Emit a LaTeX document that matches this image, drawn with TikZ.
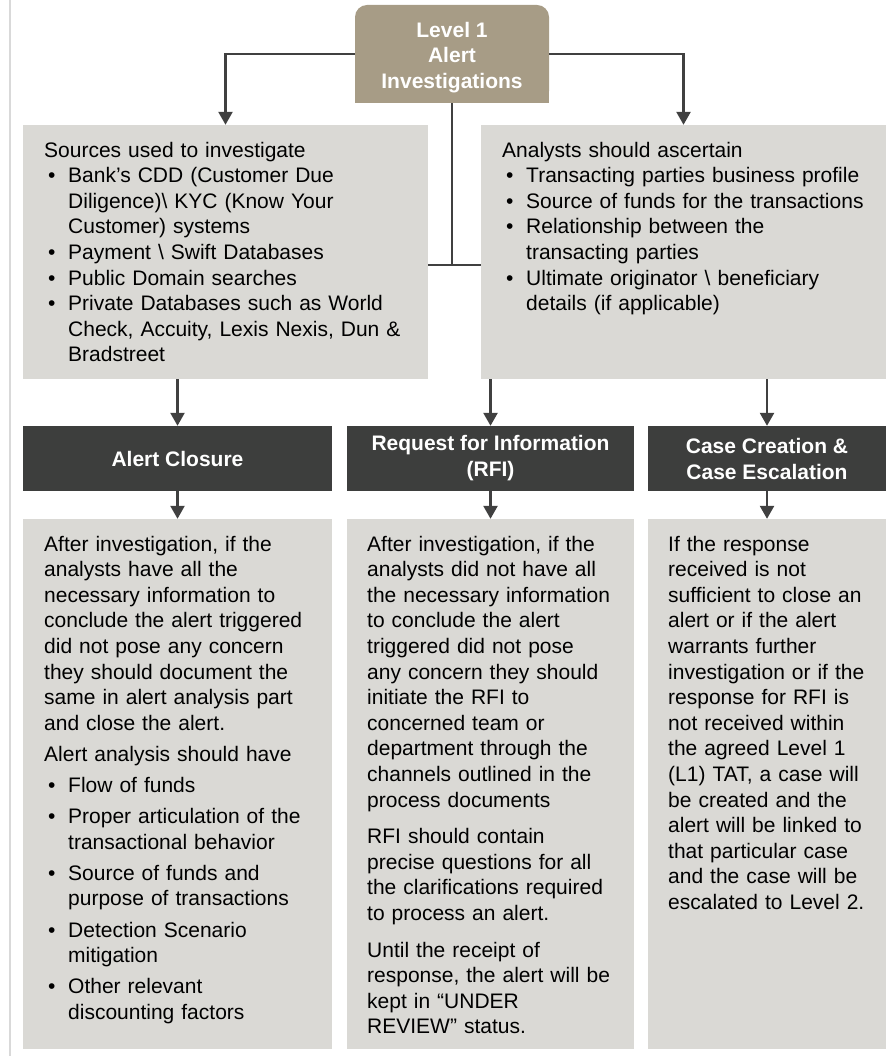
\documentclass[tikz,border=0pt]{standalone}
\usepackage{tikz}
\usepackage{xcolor}
\usepackage{fontspec}
\setmainfont{Liberation Sans}
\usetikzlibrary{arrows.meta,backgrounds}

\definecolor{levelcol}{HTML}{A79C86}
\definecolor{headcol}{HTML}{3D3E3D}
\definecolor{boxcol}{HTML}{DAD9D5}
\definecolor{linecol}{HTML}{404040}
\definecolor{edgecol}{HTML}{D9D9D9}

% bullet line with hanging indent
\newcommand{\bitem}[1]{\par\hangindent=24pt\hangafter=1\noindent\makebox[24pt][l]{\hspace{4pt}\textbullet}#1\par}

\begin{document}
\begin{tikzpicture}[x=1pt,y=-1pt,
		greybox/.style={fill=boxcol, inner sep=0pt},
		headbox/.style={fill=headcol, text=white, font=\bfseries\fontsize{21}{26}\selectfont, align=center, inner sep=0pt, minimum height=65pt},
		body/.style={anchor=north west, inner sep=0pt, align=left, font=\fontsize{21}{25.6}\selectfont},
		link/.style={draw=linecol, line width=2.5pt},
		arr/.style={link, -{Triangle[width=14pt,length=13pt]}}]
	\useasboundingbox (0,0) rectangle (889,1056);
	\draw[edgecol, line width=2pt] (10,0) -- (10,1056);

	% top of the tree
	\node[fill=levelcol, rounded corners=12pt, text=white, font=\bfseries\fontsize{21}{25.5}\selectfont, align=center, inner sep=0pt, minimum width=194pt, minimum height=98pt] (lvl) at (452,54) {\rule{0pt}{22pt}Level 1\\Alert\\Investigations};
	\begin{scope}[on background layer]
		\fill[levelcol] (lvl.south west) rectangle (lvl.east);
	\end{scope}

	\node[greybox, minimum width=405pt, minimum height=254pt] (src) at (225.5,252) {};
	\node[greybox, minimum width=405pt, minimum height=254pt] (asc) at (683.5,252) {};

	\node[body, text width=384pt] (srctext) at (44,139) {\strut Sources used to investigate
		\bitem{Bank’s CDD (Customer Due\newline Diligence)\textbackslash{} KYC (Know Your\newline Customer) systems}
		\bitem{Payment \textbackslash{} Swift Databases}
		\bitem{Public Domain searches}
		\bitem{Private Databases such as World\newline Check, Accuity, Lexis Nexis, Dun \&\newline Bradstreet}};
	\node[body, text width=384pt] (asctext) at (502,139) {\strut Analysts should ascertain
		\bitem{Transacting parties business profile}
		\bitem{Source of funds for the transactions}
		\bitem{Relationship between the\newline transacting parties}
		\bitem{Ultimate originator \textbackslash{} beneficiary\newline details (if applicable)}};

	\draw[arr] (lvl.west) -| (src.north);
	\draw[arr] (lvl.east) -| (asc.north);
	\coordinate (fork) at (452,265);
	\draw[link] (lvl.south) -- (fork);
	\draw[link] (src.east |- fork) -- (asc.west |- fork);

	% the three outcomes
	\node[headbox, minimum width=309pt] (closure) at (177.5,458.5) {Alert Closure};
	\node[headbox, minimum width=287pt] (rfi) at (490.5,458.5) {Request for Information\\(RFI)};
	\node[headbox, minimum width=238pt] (escal) at (767,458.5) {Case Creation \&\\Case Escalation};

	\draw[arr] (src.south -| closure.north) -- (closure.north);
	\draw[arr] (asc.south -| rfi.north) -- (rfi.north);
	\draw[arr] (asc.south -| escal.north) -- (escal.north);

	\node[greybox, minimum width=309pt, minimum height=530pt] (closurebody) at (177.5,784) {};
	\node[greybox, minimum width=287pt, minimum height=530pt] (rfibody) at (490.5,784) {};
	\node[greybox, minimum width=238pt, minimum height=530pt] (escalbody) at (767,784) {};

	\draw[arr] (closure.south) -- (closurebody.north);
	\draw[arr] (rfi.south) -- (rfibody.north);
	\draw[arr] (escal.south) -- (escalbody.north);

	\node[body, text width=288pt] (closuretext) at (44,533) {\setlength{\parskip}{5.5pt}\strut After investigation, if the\newline analysts have all the\newline necessary information to\newline conclude the alert triggered\newline did not pose any concern\newline they should document the\newline same in alert analysis part\newline and close the alert.\par
		Alert analysis should have
		\bitem{Flow of funds}
		\bitem{Proper articulation of the\newline transactional behavior}
		\bitem{Source of funds and\newline purpose of transactions}
		\bitem{Detection Scenario\newline mitigation}
		\bitem{Other relevant\newline discounting factors}};
	\node[body, text width=267pt] (rfitext) at (367,533) {\setlength{\parskip}{11pt}\strut After investigation, if the\newline analysts did not have all\newline the necessary information\newline to conclude the alert\newline triggered did not pose\newline any concern they should\newline initiate the RFI to\newline concerned team or\newline department through the\newline channels outlined in the\newline process documents\par
		RFI should contain\newline precise questions for all\newline the clarifications required\newline to process an alert.\par
		Until the receipt of\newline response, the alert will be\newline kept in “UNDER\newline REVIEW” status.};
	\node[body, text width=218pt] (escaltext) at (668,533) {\strut If the response\newline received is not\newline sufficient to close an\newline alert or if the alert\newline warrants further\newline investigation or if the\newline response for RFI is\newline not received within\newline the agreed Level 1\newline (L1) TAT, a case will\newline be created and the\newline alert will be linked to\newline that particular case\newline and the case will be\newline escalated to Level 2.};
\end{tikzpicture}
\end{document}
